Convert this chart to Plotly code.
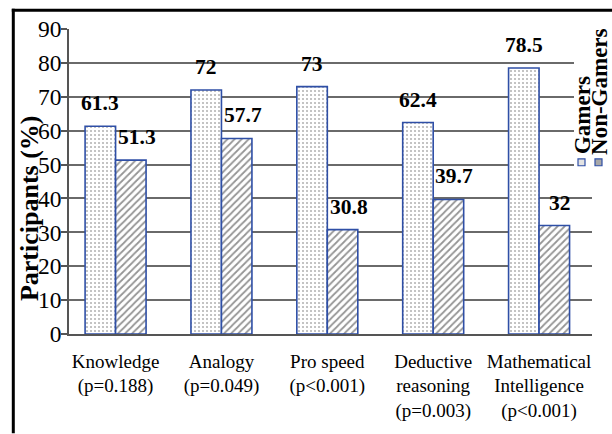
import plotly.graph_objects as go

categories = ["Knowledge<br>(p=0.188)", "Analogy<br>(p=0.049)", "Pro speed<br>(p<0.001)",
              "Deductive<br>reasoning<br>(p=0.003)", "Mathematical<br>Intelligence<br>(p<0.001)"]
gamers = [61.3, 72, 73, 62.4, 78.5]
non_gamers = [51.3, 57.7, 30.8, 39.7, 32]
y_ticks = [0, 10, 20, 30, 40, 50, 60, 70, 80, 90]
series_names = ["Gamers", "Non-Gamers"]

W, H = 612, 434
L, R, T, B = 69, 20, 29, 95
PW, PH = W - L - R, H - T - B
FONT = "Liberation Serif, DejaVu Serif, serif"
BLUE = "#2f4fa6"
GRID = "#6a6a6a"
AXIS = "#555555"

def px(x):  # pixel -> paper x
    return (x - L) / PW

def py(y):  # pixel -> paper y
    return (H - B - y) / PH

fig = go.Figure()
fig.add_trace(go.Bar(
    x=categories, y=gamers, name=series_names[0],
    marker=dict(color="white", line=dict(color=BLUE, width=1.6),
                pattern=dict(shape=".", fgcolor="#6a6a6a", bgcolor="white", size=4, solidity=0.22)),
))
fig.add_trace(go.Bar(
    x=categories, y=non_gamers, name=series_names[1],
    marker=dict(color="white", line=dict(color=BLUE, width=1.6),
                pattern=dict(shape="/", fgcolor="#2a2a2a", bgcolor="white", size=5, solidity=0.35)),
))

bargap = 0.424
x_range = [-0.44, 4.5]
unit = PW / (x_range[1] - x_range[0])
half = unit * (1 - bargap) / 4

annotations = []
for c, v in zip(categories, gamers):
    annotations.append(dict(x=c, y=v, xref="x", yref="y", text=f"<b>{v:g}</b>", showarrow=False,
                            xshift=-half, yshift=9, yanchor="bottom",
                            font=dict(family=FONT, size=21.5, color="black")))
for c, v in zip(categories, non_gamers):
    annotations.append(dict(x=c, y=v, xref="x", yref="y", text=f"<b>{v:g}</b>", showarrow=False,
                            xshift=half + 6, yshift=9, yanchor="bottom",
                            font=dict(family=FONT, size=21.5, color="black")))

# y-axis title
annotations.append(dict(x=px(29), y=py(211), xref="paper", yref="paper", text="<b>Participants (%)</b>",
                        textangle=-90, showarrow=False, xanchor="center", yanchor="middle",
                        font=dict(family=FONT, size=26, color="black")))
# legend text (rotated)
annotations.append(dict(x=px(582.5), y=py(117), xref="paper", yref="paper", text=f"<b>{series_names[0]}</b>",
                        textangle=-90, showarrow=False, xanchor="center", yanchor="middle",
                        font=dict(family=FONT, size=23, color="black")))
annotations.append(dict(x=px(600), y=py(93), xref="paper", yref="paper", text=f"<b>{series_names[1]}</b>",
                        textangle=-90, showarrow=False, xanchor="center", yanchor="middle",
                        font=dict(family=FONT, size=23, color="black")))

shapes = [
    # white box behind legend (hides gridline ends)
    dict(type="rect", xref="paper", yref="paper", x0=px(574), x1=px(615), y0=py(172), y1=py(12),
         fillcolor="white", line=dict(width=0), layer="above"),
    # legend swatches
    dict(type="rect", xref="paper", yref="paper", x0=px(578), x1=px(585), y0=py(168), y1=py(161),
         fillcolor="#e3e3e3", line=dict(color=BLUE, width=1.2), layer="above"),
    dict(type="rect", xref="paper", yref="paper", x0=px(595), x1=px(602), y0=py(168), y1=py(161),
         fillcolor="#a8a8a8", line=dict(color=BLUE, width=1.2), layer="above"),
    # outer frame (left and top edges)
    dict(type="line", xref="paper", yref="paper", x0=px(13.3), x1=px(13.3), y0=py(440), y1=py(8.5),
         line=dict(color="black", width=3), layer="above"),
    dict(type="line", xref="paper", yref="paper", x0=px(11.8), x1=px(620), y0=py(10), y1=py(10),
         line=dict(color="black", width=3), layer="above"),
]

fig.update_layout(
    width=W, height=H,
    margin=dict(l=L, r=R, t=T, b=B, pad=0),
    paper_bgcolor="white", plot_bgcolor="white",
    barmode="group", bargap=bargap, bargroupgap=0,
    showlegend=False,
    font=dict(family=FONT, color="black"),
    annotations=annotations,
    shapes=shapes,
)
fig.update_xaxes(
    range=x_range,
    showline=True, linecolor=AXIS, linewidth=1.8, showgrid=False, ticks="",
    tickfont=dict(family=FONT, size=19, color="black"), tickangle=0,
    ticklabelstandoff=9,
)
fig.update_yaxes(
    range=[0, 90], tickvals=y_ticks, showline=True, linecolor=AXIS, linewidth=1.8,
    showgrid=True, gridcolor=GRID, gridwidth=1.6, zeroline=False,
    ticks="outside", ticklen=6, tickcolor=AXIS, tickwidth=1.6,
    tickfont=dict(family=FONT, size=23.5, color="black"),
    ticklabelstandoff=-5,
)

fig.write_html("out.html", config={"displayModeBar": False},
               post_script="document.body.style.margin='0px';document.body.style.overflow='hidden';")
